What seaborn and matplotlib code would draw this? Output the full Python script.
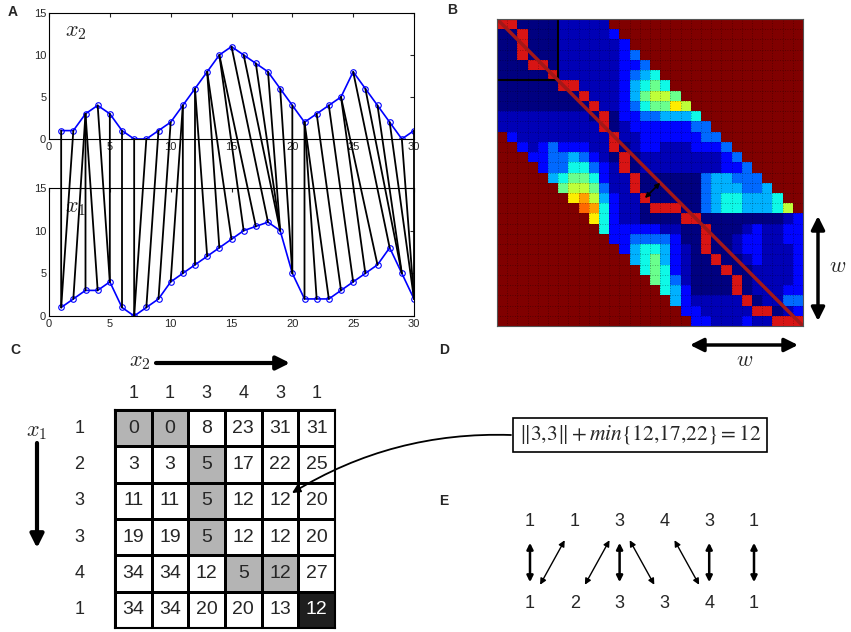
import numpy as np
import pandas as pd
import matplotlib
matplotlib.use("Agg")
import matplotlib.pyplot as plt
import seaborn as sns
from matplotlib.colors import ListedColormap
from matplotlib.patches import ConnectionPatch, Rectangle

# ---------------- data ----------------
t = list(range(1, 31))
x2 = [1, 1, 3, 4, 3, 1, 0, 0, 1, 2, 4, 6, 8, 10, 11, 10, 9, 8, 6, 4, 2, 3, 4, 5, 8, 6, 4, 2, 0, 1]
x1 = [1, 2, 3, 3, 4, 1, 0, 1, 2, 4, 5, 6, 7, 8, 9, 10, 10.5, 11, 10, 5, 2, 2, 2, 3, 4, 5, 6, 8, 5, 2]

# warping path: row = index in x1, col = index in x2
path_rows = [0, 0, 1, 2, 3, 4, 4, 5, 6, 6, 7, 8, 9, 10, 11, 12, 13, 14, 15, 16, 17, 18, 18, 18,
             19, 19, 20, 21, 22, 23, 24, 25, 26, 27, 28, 28, 29, 29, 29]
path_cols = [0, 1, 2, 2, 2, 3, 4, 5, 6, 7, 8, 9, 10, 10, 11, 11, 12, 12, 13, 13, 14, 15, 16, 17,
             18, 19, 20, 20, 20, 21, 22, 23, 23, 24, 25, 26, 27, 28, 29]

# panel B: colour level of each cell inside the window (hex digits), window half width
window = 10
band_levels = [
    "00000011111",
    "000000111112",
    "0000001111112",
    "00000011111123",
    "000000111111223",
    "0000001111112345",
    "00000000111124565",
    "000000000111246776",
    "0000000000112356687",
    "11111111100022334445",
    "111111111100122222233",
    "211111111101122222233",
    "212322211001221112223",
    "223343210001111111123",
    "233553210011111111223",
    "456652110000000344333",
    "677631100000003444334",
    "897421100000034554445",
    "a95211000000345544457",
    "852110000000000000012",
    "52222211000000121122",
    "2233332000001221122",
    "245542100001221112",
    "45642100000121112",
    "5652100000011112",
    "653100000011112",
    "54200000011122",
    "4211111001133",
    "221111100012",
    "22111211000",
]
# position of each level on the jet scale
level_scale = [0.0, 0.05, 0.13, 0.23, 0.3, 0.37, 0.48, 0.58, 0.66, 0.74, 0.8]

# panel C: accumulated cost of the first six samples
c_cost = [[0, 0, 8, 23, 31, 31],
          [3, 3, 5, 17, 22, 25],
          [11, 11, 5, 12, 12, 20],
          [19, 19, 5, 12, 12, 20],
          [34, 34, 12, 5, 12, 27],
          [34, 34, 20, 20, 13, 12]]
n_small = 6
n_small_path = 8

# ---------------- style ----------------
sns.set_style("white")
plt.rcParams["font.family"] = ["Liberation Sans", "DejaVu Sans"]

W_PX, H_PX = 851, 632
fig = plt.figure(figsize=(W_PX / 100, H_PX / 100), dpi=100)


def box(l, t_, r, b):
    return [l / W_PX, 1 - b / H_PX, (r - l) / W_PX, (b - t_) / H_PX]


# ---------------- panel A ----------------
df = pd.DataFrame({"t": t, "x1": x1, "x2": x2})
axT = fig.add_axes(box(49, 13, 414, 139))
axL = fig.add_axes(box(49, 188, 414, 316))
for ax, col, lab in [(axT, "x2", r"$x_2$"), (axL, "x1", r"$x_1$")]:
    sns.lineplot(data=df, x="t", y=col, ax=ax, color="blue", lw=1.2, marker="o",
                 markersize=4, markerfacecolor="none", markeredgecolor="blue", mew=0.8)
    ax.set_xlim(0, 30)
    ax.set_ylim(0, 15)
    ax.set_xticks(range(0, 31, 5))
    ax.set_yticks(range(0, 16, 5))
    ax.tick_params(direction="in", top=True, right=True, labelsize=8, length=3, pad=2)
    ax.set_xlabel("")
    ax.set_ylabel("")
    for s in ax.spines.values():
        s.set_color("black")
        s.set_linewidth(0.8)
    ax.text(1.3, 12.2, lab, fontsize=16, math_fontfamily="cm")

for r, c in zip(path_rows, path_cols):
    con = ConnectionPatch(xyA=(t[c], x2[c]), coordsA=axT.transData,
                          xyB=(t[r], x1[r]), coordsB=axL.transData,
                          color="black", lw=1.3)
    fig.add_artist(con)

# ---------------- panel B ----------------
n = len(x1)
band = np.full((n, n), np.nan)
for i, s in enumerate(band_levels):
    j0 = max(0, i - window)
    band[i, j0:j0 + len(s)] = [level_scale[int(ch, 16)] for ch in s]
on_path = np.full((n, n), np.nan)
on_path[path_rows, path_cols] = 1.0

axB = fig.add_axes(box(497, 19, 803, 326))
axB.set_facecolor(plt.cm.jet(1.0))
sns.heatmap(band, cmap="jet", vmin=0, vmax=1, cbar=False, ax=axB,
            xticklabels=False, yticklabels=False)
sns.heatmap(on_path, cmap=ListedColormap(["#d81414"]), cbar=False, ax=axB,
            xticklabels=False, yticklabels=False)
for k in range(1, n):
    axB.axhline(k, color="black", lw=0.6, ls=(0, (1, 2)), alpha=0.4)
    axB.axvline(k, color="black", lw=0.6, ls=(0, (1, 2)), alpha=0.4)
axB.plot([0, n], [0, n], color="#a31818", lw=2.5)
axB.add_patch(Rectangle((0, 0), n_small, n_small, fill=False, ec="black", lw=1.5))
# deviation of the path from the diagonal
r0, c0 = 17, 14
m = (r0 + c0 + 1) / 2
axB.annotate("", xy=(m, m), xytext=(c0 + 0.5, r0 + 0.5),
             arrowprops=dict(arrowstyle="<|-|>", color="black", lw=1.2,
                             mutation_scale=7, shrinkA=0, shrinkB=0))
for s in axB.spines.values():
    s.set_visible(True)
    s.set_color("#555555")
    s.set_linewidth(0.8)

# ---------------- panel C ----------------
shade = np.zeros((n_small, n_small))
for r, c in zip(path_rows[:n_small_path], path_cols[:n_small_path]):
    shade[r, c] = 1
shade[n_small - 1, n_small - 1] = 2
axC = fig.add_axes(box(115, 410, 335, 628))
sns.heatmap(shade, annot=np.array(c_cost), fmt="d", vmin=0, vmax=2,
            cmap=ListedColormap(["white", "#b4b4b4", "#1e1e1e"]),
            linewidths=1, linecolor="black", cbar=False, ax=axC,
            xticklabels=x2[:n_small], yticklabels=x1[:n_small],
            annot_kws={"fontsize": 14})
axC.xaxis.tick_top()
axC.tick_params(axis="x", length=0, labelsize=13, pad=6)
axC.tick_params(axis="y", length=0, labelsize=13, pad=22, rotation=0)
for s in axC.spines.values():
    s.set_visible(True)
    s.set_color("black")
    s.set_linewidth(1.5)

# ---------------- overlay: labels, arrows, D and E ----------------
axO = fig.add_axes([0, 0, 1, 1], facecolor="none")
axO.set_xlim(0, W_PX)
axO.set_ylim(H_PX, 0)
axO.axis("off")

for lab, (px, py) in {"A": (13, 12), "B": (452, 10), "C": (15, 350),
                      "D": (444, 350), "E": (444, 501)}.items():
    axO.text(px, py, lab, fontsize=10, fontweight="bold", ha="center", va="center")

thick = dict(arrowstyle="-|>", color="black", lw=3, mutation_scale=20, shrinkA=0, shrinkB=0)
axO.text(140, 362, r"$x_2$", fontsize=16, math_fontfamily="cm", ha="center", va="center")
axO.annotate("", xy=(290, 363), xytext=(156, 363), arrowprops=thick)
axO.text(37, 432, r"$x_1$", fontsize=16, math_fontfamily="cm", ha="center", va="center")
axO.annotate("", xy=(37, 548), xytext=(37, 443), arrowprops=thick)

# w arrows next to the heatmap
dbl = dict(arrowstyle="<|-|>", color="black", lw=2.5, mutation_scale=20, shrinkA=0, shrinkB=0)
axO.annotate("", xy=(818, 216), xytext=(818, 321), arrowprops=dbl)
axO.text(838, 266, r"$w$", fontsize=16, math_fontfamily="cm", ha="center", va="center")
axO.annotate("", xy=(690, 345), xytext=(798, 345), arrowprops=dbl)
axO.text(745, 361, r"$w$", fontsize=16, math_fontfamily="cm", ha="center", va="center")

# D: recursion for one cell
axO.text(640, 435, r"$\Vert 3{,}3\Vert + \mathit{min}\{12{,}17{,}22\} = 12$",
         fontsize=15.5, math_fontfamily="stix", ha="center", va="center",
         bbox=dict(boxstyle="square,pad=0.25", fc="white", ec="black", lw=1.2))
axO.annotate("", xy=(292, 493), xytext=(511, 435),
             arrowprops=dict(arrowstyle="-|>", color="black", lw=1.3, mutation_scale=12,
                             connectionstyle="arc3,rad=0.15", shrinkA=0, shrinkB=0))

# E: pairing of the first six samples
ex = [530 + 44.8 * k for k in range(n_small)]
top_y, bot_y = 522, 603
for k in range(n_small):
    axO.text(ex[k], top_y, str(x2[k]), fontsize=13, ha="center", va="center")
    axO.text(ex[k], bot_y, str(x1[k]), fontsize=13, ha="center", va="center")
for r, c in zip(path_rows[:n_small_path], path_cols[:n_small_path]):
    axO.annotate("", xy=(ex[r], bot_y), xytext=(ex[c], top_y),
                 arrowprops=dict(arrowstyle="<|-|>", color="black",
                                 lw=1.8 if r == c else 1.0, mutation_scale=9,
                                 shrinkA=15, shrinkB=15))

fig.savefig("out.png", dpi=100)
